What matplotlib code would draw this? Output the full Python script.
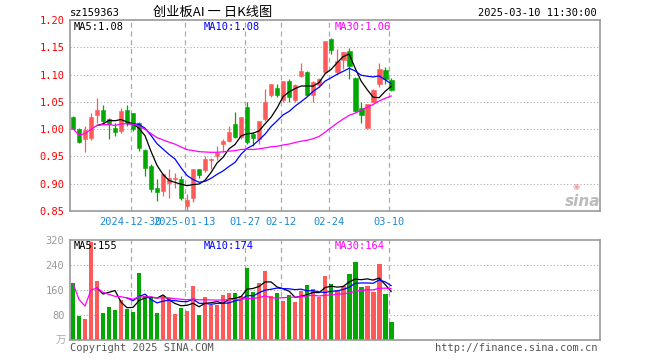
import matplotlib
matplotlib.use("Agg")
import matplotlib.pyplot as plt
import numpy as np
import pandas as pd

# daily K data (54 trading days, 2024-12-16 .. 2025-03-10)
opens = [1.023, 1.000, 0.982, 0.983, 1.025, 1.035, 1.018, 1.002, 0.997, 1.035,
         1.029, 1.011, 0.961, 0.933, 0.892, 0.887, 0.901, 0.908, 0.908, 0.860,
         0.874, 0.927, 0.925, 0.943, 0.951, 0.972, 0.979, 1.009, 0.985, 1.041,
         0.992, 0.982, 1.018, 1.062, 1.075, 1.053, 1.088, 1.054, 1.098, 1.104,
         1.062, 1.080, 1.104, 1.165, 1.104, 1.127, 1.144, 1.093, 1.039, 1.002,
         1.050, 1.083, 1.109, 1.090]
highs = [1.024, 1.003, 1.006, 1.029, 1.057, 1.044, 1.020, 1.011, 1.039, 1.044,
         1.029, 1.014, 0.963, 0.936, 0.908, 0.920, 0.927, 0.920, 0.914, 0.882,
         0.927, 0.927, 0.951, 0.948, 0.969, 0.982, 1.005, 1.031, 1.023, 1.050,
         0.994, 1.015, 1.074, 1.083, 1.083, 1.089, 1.092, 1.083, 1.121, 1.106,
         1.088, 1.093, 1.162, 1.167, 1.147, 1.142, 1.149, 1.096, 1.050, 1.046,
         1.074, 1.122, 1.113, 1.093]
lows = [1.000, 0.975, 0.958, 0.980, 1.011, 1.010, 0.982, 0.988, 0.993, 1.006,
        0.997, 0.960, 0.914, 0.884, 0.868, 0.878, 0.874, 0.893, 0.871, 0.850,
        0.867, 0.910, 0.922, 0.927, 0.944, 0.958, 0.976, 0.983, 0.982, 0.972,
        0.969, 0.972, 1.015, 1.058, 1.058, 1.050, 1.050, 1.050, 1.095, 1.061,
        1.050, 1.078, 1.101, 1.138, 1.101, 1.110, 1.091, 1.031, 1.012, 1.002,
        1.049, 1.078, 1.083, 1.069]
closes = [1.001, 0.977, 0.998, 1.023, 1.035, 1.015, 1.009, 0.995, 1.034, 1.012,
          1.000, 0.966, 0.928, 0.890, 0.884, 0.917, 0.911, 0.910, 0.874, 0.870,
          0.927, 0.916, 0.945, 0.945, 0.957, 0.979, 0.994, 0.985, 1.023, 0.977,
          0.984, 1.015, 1.050, 1.083, 1.062, 1.088, 1.058, 1.081, 1.106, 1.063,
          1.086, 1.091, 1.162, 1.145, 1.124, 1.142, 1.115, 1.034, 1.026, 1.046,
          1.072, 1.110, 1.092, 1.072]
# volume in 万
volumes = [181, 78, 67, 315, 189, 86, 106, 96, 129, 100,
           91, 214, 141, 139, 86, 141, 135, 83, 103, 93,
           173, 80, 138, 112, 112, 143, 150, 150, 140, 230,
           155, 182, 222, 140, 150, 125, 144, 123, 157, 175,
           163, 139, 205, 179, 160, 173, 212, 250, 170, 173,
           154, 243, 148, 58]

date_pos = [10, 19, 29, 35, 43, 53]
date_labels = ["2024-12-30", "2025-01-13", "01-27", "02-12", "02-24", "03-10"]
price_ticks = [0.85, 0.90, 0.95, 1.00, 1.05, 1.10, 1.15, 1.20]
vol_ticks = [80, 160, 240, 320]

RED = "#ff5a5a"
GREEN = "#00a800"
GRID = "#aaaaaa"
MONO = "DejaVu Sans Mono"

W, H = 660, 360
fig = plt.figure(figsize=(6.6, 3.6), dpi=100)


def box(x0, y0, x1, y1):
    return [x0 / W, 1 - y1 / H, (x1 - x0) / W, (y1 - y0) / H]


def px(x, y):
    return x / W, 1 - y / H


ax = fig.add_axes(box(70, 20, 600, 211))
axv = fig.add_axes(box(70, 240, 600, 340))

idx = np.arange(len(closes))
o = np.array(opens)
c = np.array(closes)
up = c >= o
cols = [RED if u else GREEN for u in up]

cs = pd.Series(closes)
ma5 = cs.rolling(5).mean()
ma10 = cs.rolling(10).mean()
ma30 = cs.rolling(30, min_periods=1).mean()
vs = pd.Series(volumes)
vma5 = vs.rolling(5).mean()
vma10 = vs.rolling(10).mean()
vma30 = vs.rolling(30, min_periods=1).mean()

for a in (ax, axv):
    a.set_xlim(-0.5, 87.8)
    for s in a.spines.values():
        s.set_color("#999999")
        s.set_linewidth(1.2)
    a.tick_params(length=0)
    a.set_xticks([])
    for p in date_pos:
        a.axvline(p - 0.4, color=GRID, lw=0.9, ls=(0, (4, 3)), zorder=0)

# price panel
ax.set_ylim(0.85, 1.20)
for t in price_ticks[1:-1]:
    ax.axhline(t, color=GRID, lw=0.8, ls=(0, (1, 2)), zorder=0)
ax.set_yticks(price_ticks)
ax.set_yticklabels(["%.2f" % t for t in price_ticks], color="red",
                   fontsize=7.5, family=MONO)
ax.tick_params(axis="y", pad=4)
ax.vlines(idx, lows, highs, colors=cols, lw=0.9, zorder=2)
bottoms = np.minimum(o, c)
heights = np.maximum(np.abs(c - o), 0.0012)
ax.bar(idx, heights, bottom=bottoms, width=0.8, color=cols, edgecolor=cols,
       lw=0.4, zorder=3)
ax.plot(idx, ma5, color="black", lw=0.9, zorder=4)
ax.plot(idx, ma10, color="blue", lw=0.9, zorder=4)
ax.plot(idx, ma30, color="magenta", lw=0.9, zorder=4)

# volume panel
axv.set_ylim(0, 320)
for t in vol_ticks[:-1]:
    axv.axhline(t, color=GRID, lw=0.8, ls=(0, (1, 2)), zorder=0)
axv.set_yticks(vol_ticks)
axv.set_yticklabels([str(t) for t in vol_ticks], color="#999999",
                    fontsize=7.5, family=MONO)
axv.tick_params(axis="y", pad=4)
axv.bar(idx, volumes, width=0.8, color=cols, zorder=2)
axv.plot(idx, vma5, color="black", lw=0.9, zorder=4)
axv.plot(idx, vma10, color="blue", lw=0.9, zorder=4)
axv.plot(idx, vma30, color="magenta", lw=0.9, zorder=4)

# date labels
for p, lab in zip(date_pos, date_labels):
    ax.text(p - 0.4, -0.06, lab, transform=ax.get_xaxis_transform(),
            ha="center", va="center", color="#1a8ad4", fontsize=7.5, family=MONO)

# header texts
fig.text(*px(70, 13), "sz159363", fontsize=7.5, family=MONO, va="center")
fig.text(*px(213, 12), "创业板AI 一 日K线图", fontsize=9.5,
         family=["Noto Sans CJK SC", "DejaVu Sans"], ha="center", va="center")
fig.text(*px(597, 13), "2025-03-10 11:30:00", fontsize=7.5, family=MONO,
         ha="right", va="center")

fig.text(*px(74, 27), "MA5:%.2f" % ma5.iloc[-1], fontsize=7.5, family=MONO,
         va="center", color="black")
fig.text(*px(204, 27), "MA10:%.2f" % ma10.iloc[-1], fontsize=7.5, family=MONO,
         va="center", color="blue")
fig.text(*px(335, 27), "MA30:%.2f" % ma30.iloc[-1], fontsize=7.5, family=MONO,
         va="center", color="magenta")

fig.text(*px(74, 246), "MA5:%d" % round(vma5.iloc[-1]), fontsize=7.5, family=MONO,
         va="center", color="black")
fig.text(*px(204, 246), "MA10:%d" % round(vma10.iloc[-1]), fontsize=7.5,
         family=MONO, va="center", color="blue")
fig.text(*px(335, 246), "MA30:%d" % round(vma30.iloc[-1]), fontsize=7.5,
         family=MONO, va="center", color="magenta")

fig.text(*px(66, 341), "万", fontsize=7.5, color="#aaaaaa",
         family=["Noto Sans CJK SC", "DejaVu Sans"], ha="right", va="center")
fig.text(*px(70, 348), "Copyright 2025 SINA.COM", fontsize=7.5, family=MONO,
         va="center", color="#555555")
fig.text(*px(597, 348), "http://finance.sina.com.cn", fontsize=7.5, family=MONO,
         va="center", ha="right", color="#555555")

# sina watermark
fig.text(*px(583, 201), "sina", fontsize=11, family="DejaVu Sans", style="italic",
         weight="bold", color="#bbbbbb", ha="center", va="center")
fig.text(*px(576, 186), "◉", fontsize=6, color="#f3a0a0", ha="center", va="center")

fig.savefig("out.png", dpi=100)
